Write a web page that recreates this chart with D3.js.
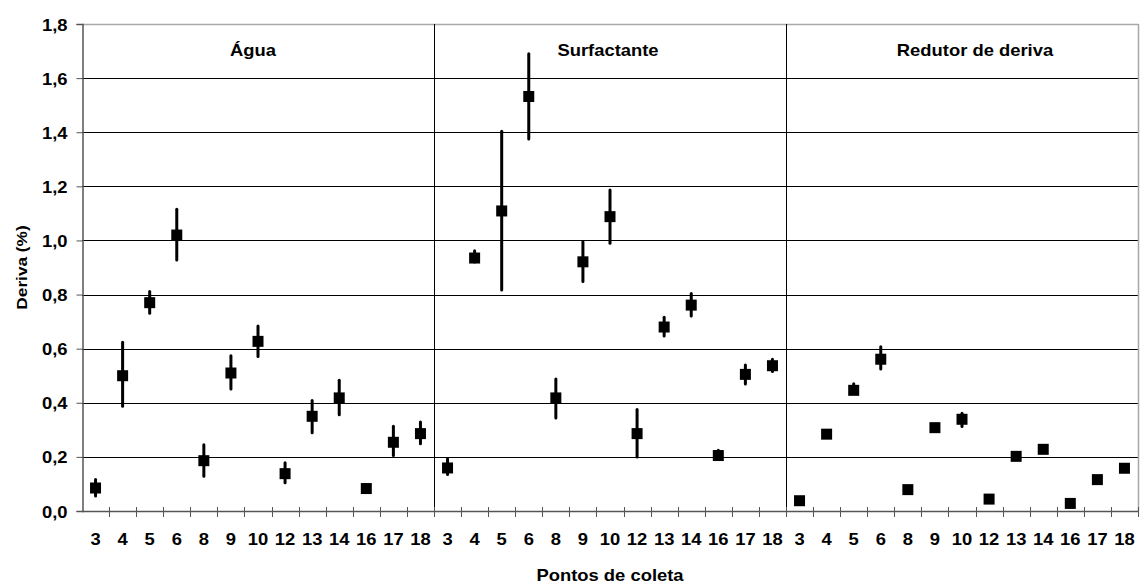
<!DOCTYPE html>
<html>
<head>
<meta charset="utf-8">
<script src="https://cdn.jsdelivr.net/npm/d3@7/dist/d3.min.js"></script>
<style>
  html, body { margin: 0; padding: 0; background: #fff; }
  svg { display: block; }
  text { font-family: Arial, "Liberation Sans", sans-serif; font-weight: bold; fill: #000; }
</style>
</head>
<body>
<script>
// Sampling points (same set for each treatment)
const categories = ["3", "4", "5", "6", "8", "9", "10", "12", "13", "14", "16", "17", "18"];
const treatments = ["Água", "Surfactante", "Redutor de deriva"];

// Deriva (%) — mean, lower and upper limit per sampling point
const aguaMean = [0.085, 0.50, 0.77, 1.02, 0.186, 0.51, 0.627, 0.138, 0.35, 0.418, 0.083, 0.254, 0.286];
const aguaLow  = [0.055, 0.387, 0.731, 0.928, 0.128, 0.451, 0.571, 0.104, 0.289, 0.356, 0.083, 0.205, 0.249];
const aguaHigh = [0.116, 0.624, 0.811, 1.115, 0.245, 0.574, 0.684, 0.178, 0.408, 0.483, 0.083, 0.313, 0.329];

const surfMean = [0.159, 0.935, 1.109, 1.532, 0.418, 0.921, 1.088, 0.286, 0.68, 0.761, 0.205, 0.505, 0.537];
const surfLow  = [0.135, 0.92, 0.817, 1.375, 0.344, 0.848, 0.99, 0.20, 0.647, 0.721, 0.19, 0.469, 0.516];
const surfHigh = [0.193, 0.962, 1.404, 1.69, 0.488, 0.995, 1.186, 0.375, 0.716, 0.804, 0.225, 0.54, 0.561];

const redMean = [0.038, 0.284, 0.446, 0.561, 0.079, 0.308, 0.339, 0.044, 0.202, 0.228, 0.028, 0.116, 0.158];
const redLow  = [0.038, 0.284, 0.44, 0.525, 0.079, 0.308, 0.312, 0.044, 0.202, 0.228, 0.028, 0.116, 0.158];
const redHigh = [0.038, 0.284, 0.47, 0.607, 0.079, 0.308, 0.361, 0.044, 0.202, 0.228, 0.028, 0.116, 0.158];

const yTicks = [0, 0.2, 0.4, 0.6, 0.8, 1.0, 1.2, 1.4, 1.6, 1.8];

const seriesByTreatment = [
  { mean: aguaMean, low: aguaLow, high: aguaHigh },
  { mean: surfMean, low: surfLow, high: surfHigh },
  { mean: redMean,  low: redLow,  high: redHigh }
];

// Flatten into one row per (treatment, point)
const rows = [];
treatments.forEach((t, ti) => {
  categories.forEach((c, ci) => {
    const s = seriesByTreatment[ti];
    rows.push({ key: t + "|" + c, treatment: t, ti, cat: c,
                mean: s.mean[ci], low: s.low[ci], high: s.high[ci] });
  });
});

const W = 1141, H = 586;
const plotL = 82, plotR = 1138, plotT = 24, plotB = 511;
const SX = 1.15; // horizontal stretch of the lettering

const svg = d3.select("body").append("svg").attr("width", W).attr("height", H);

const x = d3.scaleBand().domain(rows.map(d => d.key)).range([plotL, plotR]).padding(0);
const y = d3.scaleLinear().domain([0, 1.8]).range([plotB, plotT]);

const br = d3.formatLocale({ decimal: ",", thousands: ".", grouping: [3], currency: ["R$", ""] });
const fmt = br.format(".1f");

// horizontal gridlines
svg.append("g").selectAll("line").data(yTicks.filter(v => v > 0 && v < 1.8)).join("line")
  .attr("x1", plotL).attr("x2", plotR)
  .attr("y1", d => Math.round(y(d)) + 0.5).attr("y2", d => Math.round(y(d)) + 0.5)
  .attr("stroke", "#000").attr("stroke-width", 1);

// plot frame (top and right) in grey
svg.append("line").attr("x1", plotL).attr("x2", plotR + 0.5)
  .attr("y1", Math.round(y(1.8)) + 0.5).attr("y2", Math.round(y(1.8)) + 0.5)
  .attr("stroke", "#a8a8a8").attr("stroke-width", 1.5);
svg.append("line").attr("x1", plotR + 0.5).attr("x2", plotR + 0.5)
  .attr("y1", y(1.8)).attr("y2", y(0))
  .attr("stroke", "#a8a8a8").attr("stroke-width", 1.5);

// panel separators
treatments.slice(1).forEach(t => {
  const xs = Math.round(x(t + "|" + categories[0])) + 0.5;
  svg.append("line").attr("x1", xs).attr("x2", xs)
    .attr("y1", y(1.8)).attr("y2", y(0))
    .attr("stroke", "#000").attr("stroke-width", 1);
});

// y axis
const yAxis = d3.axisLeft(y).tickValues(yTicks).tickFormat(fmt).tickSize(6).tickPadding(0);
const gy = svg.append("g").attr("transform", `translate(${plotL + 0.5},0)`).call(yAxis);
gy.select(".domain").attr("stroke", "#555").attr("stroke-width", 1.5);
gy.selectAll(".tick line").attr("stroke", "#555");
gy.selectAll(".tick text")
  .attr("x", null).attr("dy", null)
  .attr("transform", `translate(-15,6) scale(${SX},1)`)
  .attr("text-anchor", "end")
  .style("font-size", "16px").style("font-family", "Arial, 'Liberation Sans', sans-serif")
  .style("font-weight", "bold").attr("fill", "#000");

// x axis: baseline, boundary ticks and labels
const boundaries = rows.map(d => x(d.key)).concat([plotR]);
svg.append("line").attr("x1", plotL).attr("x2", plotR)
  .attr("y1", plotB + 0.5).attr("y2", plotB + 0.5)
  .attr("stroke", "#555").attr("stroke-width", 1.5);
svg.append("g").selectAll("line").data(boundaries.slice(1)).join("line")
  .attr("x1", d => Math.round(d) + 0.5).attr("x2", d => Math.round(d) + 0.5)
  .attr("y1", plotB - 4).attr("y2", plotB + 6)
  .attr("stroke", "#555").attr("stroke-width", 1);
svg.append("g").selectAll("text").data(rows).join("text")
  .attr("transform", d => `translate(${x(d.key) + x.bandwidth() / 2},545) scale(${SX},1)`)
  .attr("text-anchor", "middle")
  .style("font-size", "16px")
  .text(d => d.cat);

// error bars
svg.append("g").selectAll("line").data(rows.filter(d => d.high > d.low)).join("line")
  .attr("x1", d => x(d.key) + x.bandwidth() / 2).attr("x2", d => x(d.key) + x.bandwidth() / 2)
  .attr("y1", d => y(d.high)).attr("y2", d => y(d.low))
  .attr("stroke", "#000").attr("stroke-width", 3).attr("stroke-linecap", "round");

// mean markers
const ms = 11;
svg.append("g").selectAll("rect").data(rows).join("rect")
  .attr("x", d => x(d.key) + x.bandwidth() / 2 - ms / 2)
  .attr("y", d => y(d.mean) - ms / 2)
  .attr("width", ms).attr("height", ms)
  .attr("fill", "#000");

// treatment titles
const titleNudge = [-5, -2, 13];
treatments.forEach((t, i) => {
  const x0 = x(t + "|" + categories[0]);
  const x1 = x(t + "|" + categories[categories.length - 1]) + x.bandwidth();
  svg.append("text")
    .attr("transform", `translate(${(x0 + x1) / 2 + titleNudge[i]},56) scale(${SX},1)`)
    .attr("text-anchor", "middle")
    .style("font-size", "16px")
    .text(t);
});

// axis titles
svg.append("text")
  .attr("transform", `translate(${(plotL + plotR) / 2},581) scale(${SX},1)`)
  .attr("text-anchor", "middle")
  .style("font-size", "16px")
  .text("Pontos de coleta");

svg.append("text")
  .attr("transform", `translate(27,${(plotT + plotB) / 2}) rotate(-90) scale(${SX},1)`)
  .attr("text-anchor", "middle")
  .style("font-size", "15px")
  .text("Deriva (%)");
</script>
</body>
</html>
